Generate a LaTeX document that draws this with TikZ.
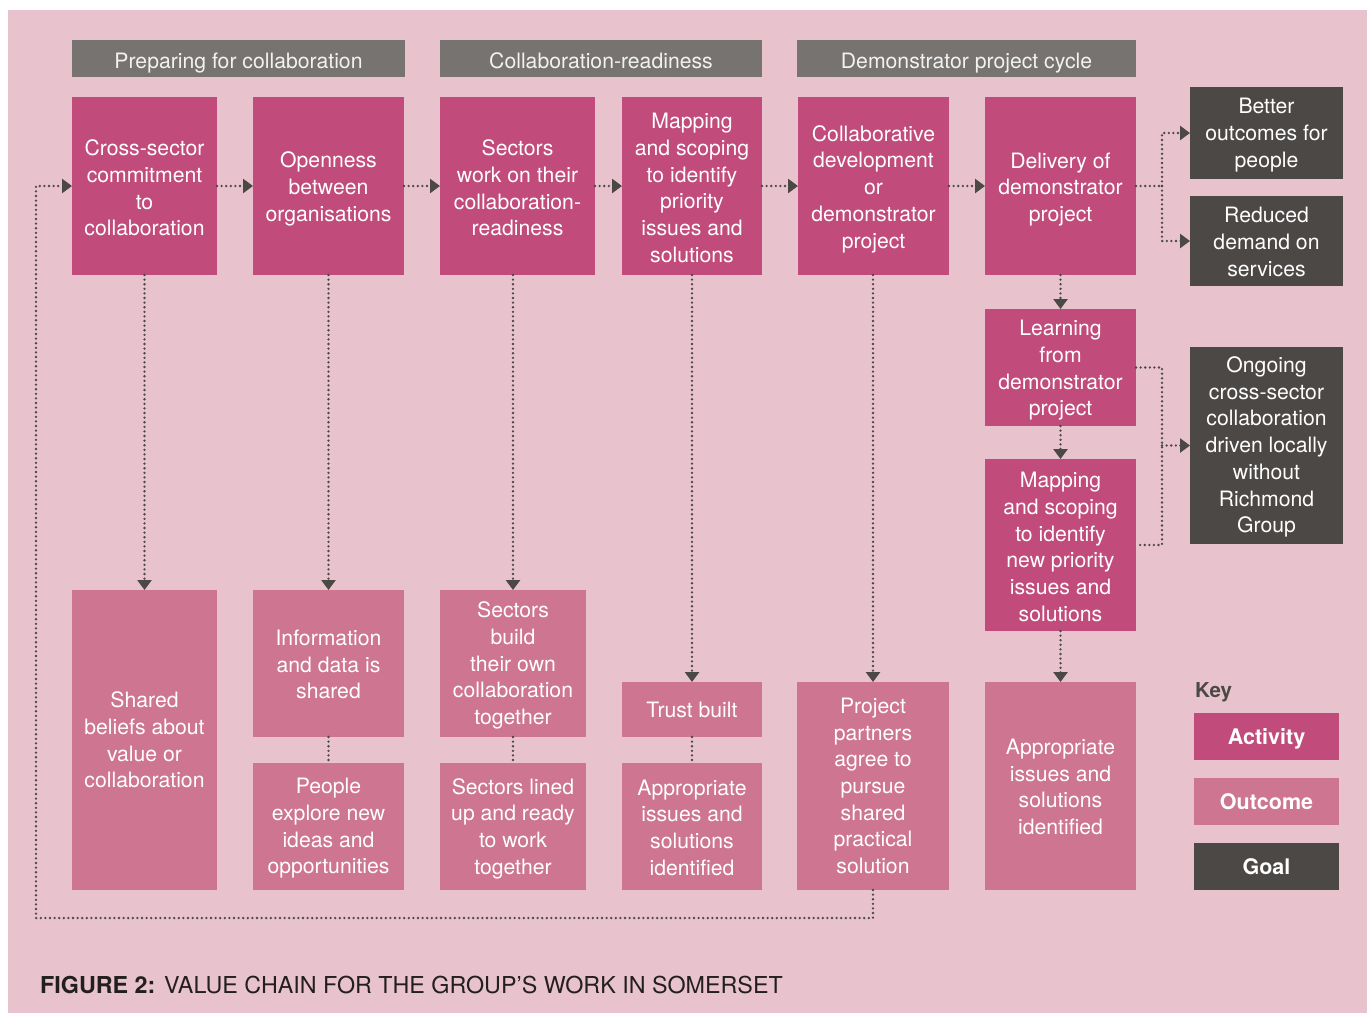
\documentclass[tikz,border=0pt]{standalone}
\usepackage{fontspec}
\setmainfont{TeX Gyre Heros}
\usetikzlibrary{arrows.meta}
\definecolor{bgpink}{HTML}{E8C3CD}
\definecolor{actc}{HTML}{C14C7B}
\definecolor{outc}{HTML}{CD7591}
\definecolor{goalc}{HTML}{4B4846}
\definecolor{headc}{HTML}{767371}
\definecolor{capc}{HTML}{231F20}
% name, x1, y1, x2, y2, style, text, text shift down
\newcommand\mkbox[8]{%
  \node[#6, minimum width={(#4-#2)*1pt}, minimum height={(#5-#3)*1pt}]
    (#1) at ({(#2+#4)/2},{(#3+#5)/2}) {};
  \node[#6, fill=none] at ([yshift=-#8pt]#1.center) {#7};}
\begin{document}
\begin{tikzpicture}[x=1pt,y=-1pt,
  boxbase/.style={inner sep=0pt, outer sep=0pt, text=white, align=center,
    font=\fontsize{21.2}{26.7}\selectfont},
  act/.style={boxbase, fill=actc},
  outc/.style={boxbase, fill=outc},
  goal/.style={boxbase, fill=goalc},
  head/.style={boxbase, fill=headc, text=white!95!black, text height=22pt, text depth=3pt},
  keybox/.style={boxbase, font=\fontsize{21.5}{25}\selectfont\bfseries, text height=18.5pt, text depth=3pt},
  con/.style={draw=goalc, line width=2.6pt, dash pattern=on 0pt off 4.6pt, line cap=round},
  arr/.style={-{Triangle[length=10pt,width=14pt]}}
]
\useasboundingbox (0,0) rectangle (1367,1013);
\fill[white] (0,0) rectangle (1367,1013);
\fill[bgpink] (8,10) rectangle (1367,1013);

% headers
\mkbox{H1}{72}{40}{405}{77}{head}{Preparing for collaboration}{0}
\mkbox{H2}{440}{40}{762}{77}{head}{Collaboration-readiness}{0}
\mkbox{H3}{797}{40}{1136}{77}{head}{Demonstrator project cycle}{0}

% activities
\mkbox{A1}{72}{97}{217}{275}{act}{Cross-sector\\commitment\\to\\collaboration}{2}
\mkbox{A2}{253}{97}{404}{275}{act}{Openness\\between\\organisations}{3}
\mkbox{A3}{440}{97}{595}{275}{act}{Sectors\\work on their\\collaboration-\\readiness}{2}
\mkbox{A4}{622}{97}{762}{275}{act}{Mapping\\and scoping\\to identify\\priority\\issues and\\solutions}{2}
\mkbox{A5}{798}{97}{949}{275}{act}{Collaborative\\development\\or\\demonstrator\\project}{3}
\mkbox{A6}{985}{97}{1136}{275}{act}{Delivery of\\demonstrator\\project}{3.5}
\mkbox{A7}{985}{309}{1136}{426}{act}{Learning\\from\\demonstrator\\project}{3}
\mkbox{A8}{985}{459}{1136}{631}{act}{Mapping\\and scoping\\to identify\\new priority\\issues and\\solutions}{2}

% goals
\mkbox{G1}{1190}{87}{1343}{179}{goal}{Better\\outcomes for\\people}{2}
\mkbox{G2}{1190}{196}{1343}{286}{goal}{Reduced\\demand on\\services}{1}
\mkbox{G3}{1190}{347}{1343}{544}{goal}{Ongoing\\cross-sector\\collaboration\\driven locally\\without\\Richmond\\Group}{1.5}

% outcomes
\mkbox{O1}{72}{590}{217}{890}{outc}{Shared\\beliefs about\\value or\\collaboration}{0}
\mkbox{O2}{253}{590}{404}{737}{outc}{Information\\and data is\\shared}{1}
\mkbox{O3}{253}{763}{404}{890}{outc}{People\\explore new\\ideas and\\opportunities}{2}
\mkbox{O4}{440}{590}{586}{737}{outc}{Sectors\\build\\their own\\collaboration\\together}{2}
\mkbox{O5}{440}{763}{586}{890}{outc}{Sectors lined\\up and ready\\to work\\together}{2}
\mkbox{O6}{622}{682}{762}{737}{outc}{Trust built}{0}
\mkbox{O7}{622}{763}{762}{890}{outc}{Appropriate\\issues and\\solutions\\identified}{1}
\mkbox{O8}{797}{682}{949}{890}{outc}{Project\\partners\\agree to\\pursue\\shared\\practical\\solution}{0}
\mkbox{O9}{985}{682}{1136}{890}{outc}{Appropriate\\issues and\\solutions\\identified}{1}

% key
\node[anchor=base west, inner sep=0pt, text=goalc, font=\fontsize{20.5}{24}\selectfont\bfseries] (keyt) at (1195,697) {Key};
\mkbox{K1}{1194}{713}{1339}{760}{keybox,fill=actc}{Activity}{0}
\mkbox{K2}{1194}{778}{1339}{825}{keybox,fill=outc}{Outcome}{0}
\mkbox{K3}{1194}{843}{1339}{890}{keybox,fill=goalc}{Goal}{0}

% caption
\node[anchor=base west, inner sep=0pt, text=capc, font=\fontsize{23.3}{27}\selectfont] (cap) at (40,993)
  {\textbf{FIGURE 2:} VALUE CHAIN FOR THE GROUP’S WORK IN SOMERSET};

% horizontal chain
\draw[con,arr] (A1) -- (A2);
\draw[con,arr] (A2) -- (A3);
\draw[con,arr] (A3) -- (A4);
\draw[con,arr] (A4) -- (A5);
\draw[con,arr] (A5) -- (A6);

% to goals
\coordinate (j1) at (1162,186);
\draw[con] (A6.east) -- (j1);
\draw[con,arr] (j1) |- (G1.west);
\draw[con,arr] (j1) |- (G2.west);

% cycle
\draw[con,arr] (A6) -- (A7);
\draw[con,arr] (A7) -- (A8);
\draw[con,arr] (A8) -- (O9);
\coordinate (j2) at (1162,367.5);
\coordinate (j3) at (1162,545);
\draw[con] (A7.east) -- (j2) -- (j3) -- (A8.east);
\draw[con,arr] (G3.west -| j2) -- (G3.west);

% down to outcomes
\draw[con,arr] (A1) -- (O1);
\draw[con,arr] (A2) -- (O2);
\draw[con,arr] (A3.south -| O4) -- (O4.north);
\draw[con,arr] (A4.south -| O6) -- (O6.north);
\draw[con,arr] (A5.south -| O8) -- (O8.north);
\draw[con] (O2) -- (O3);
\draw[con] (O4) -- (O5);
\draw[con] (O6) -- (O7);

% feedback loop
\coordinate (fb) at (36,918);
\draw[con,arr] (O8.south) |- (fb) |- (A1.west);
\end{tikzpicture}
\end{document}
